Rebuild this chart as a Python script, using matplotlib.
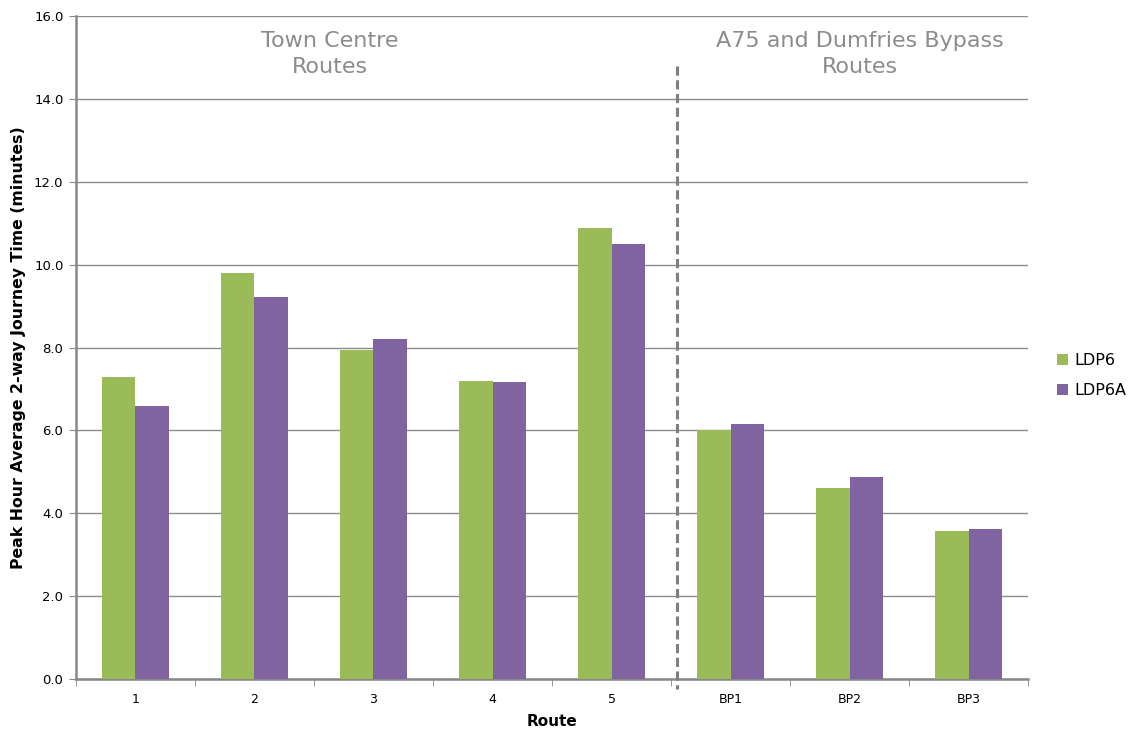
import matplotlib
matplotlib.use("Agg")
import matplotlib.pyplot as plt
import numpy as np

categories = ["1", "2", "3", "4", "5", "BP1", "BP2", "BP3"]
ldp6 = [7.28, 9.81, 7.93, 7.19, 10.89, 6.01, 4.62, 3.58]
ldp6a = [6.60, 9.22, 8.20, 7.16, 10.50, 6.15, 4.87, 3.62]
series_names = ["LDP6", "LDP6A"]
y_ticks = [0, 2, 4, 6, 8, 10, 12, 14, 16]

plt.rcParams['font.family'] = ['DejaVu Sans']
fig = plt.figure(figsize=(11.39, 7.31), dpi=100)
ax = fig.add_axes([0.0667, 0.0711, 0.9026 - 0.0667, 0.9781 - 0.0711])

x = np.arange(len(categories))
w = 0.285
green = "#9BBB59"
purple = "#8064A2"
ax.bar(x - w/2, ldp6, w, color=green, label=series_names[0], zorder=3)
ax.bar(x + w/2, ldp6a, w, color=purple, label=series_names[1], zorder=3)

ax.set_xlim(-0.5, len(categories) - 0.5)
ax.set_ylim(0, 16)
ax.set_yticks(y_ticks)
ax.set_yticklabels([f"{v:.1f}" for v in y_ticks], fontsize=9.5)
ax.set_xticks(x)
ax.set_xticklabels(categories, fontsize=9)
ax.set_xticks(np.arange(-0.5, len(categories), 1.0), minor=True)
ax.tick_params(axis='x', which='major', length=0, pad=10)
ax.tick_params(axis='x', which='minor', length=5, color="#888888")
ax.tick_params(axis='y', length=5, color="#888888", pad=4)

ax.grid(axis='y', color="#8c8c8c", linewidth=1, zorder=0)
for s in ['top', 'right']:
    ax.spines[s].set_visible(False)
for s in ['left', 'bottom']:
    ax.spines[s].set_color("#888888")
    ax.spines[s].set_linewidth(1.8)

ax.set_ylabel("Peak Hour Average 2-way Journey Time (minutes)", fontsize=11.3, fontweight='bold', labelpad=6)
ax.set_xlabel("Route", fontsize=11, fontweight='bold', labelpad=6)

# Divider
ax.plot([4.55, 4.55], [14.8, -0.25], linestyle=(0, (3, 1.5)), color="#7f7f7f", linewidth=2.2,
        clip_on=False, zorder=4)

ax.text(1.63, 15.09, "Town Centre\nRoutes", ha='center', va='center', fontsize=16,
        color="#8c8c8c", linespacing=1.4)
ax.text(6.09, 15.09, "A75 and Dumfries Bypass\nRoutes", ha='center', va='center', fontsize=16,
        color="#8c8c8c", linespacing=1.4)

leg = fig.legend(loc='center left', bbox_to_anchor=(0.915, 0.486), frameon=False, fontsize=11.5,
                 handlelength=0.7, handleheight=0.7, handletextpad=0.4, labelspacing=0.95)

fig.savefig("out.png", dpi=100)
